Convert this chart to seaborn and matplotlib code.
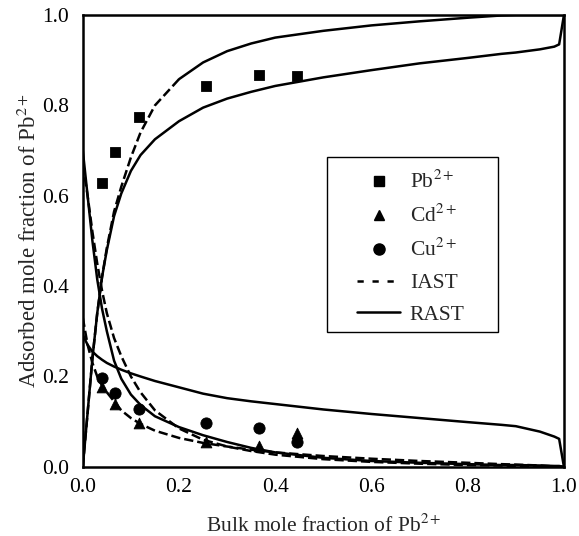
import numpy as np
import pandas as pd
import matplotlib
matplotlib.use("Agg")
import matplotlib.pyplot as plt
from matplotlib.lines import Line2D
from matplotlib.patches import Rectangle
import seaborn as sns

# measured data (bulk vs adsorbed mole fraction)
x_exp = [0.039, 0.066, 0.116, 0.256, 0.366, 0.446]
pb_exp = [0.628, 0.697, 0.774, 0.843, 0.867, 0.865]
cd_exp = [0.177, 0.139, 0.097, 0.055, 0.046, 0.075]
cu_exp = [0.197, 0.164, 0.128, 0.097, 0.086, 0.056]

# model curves
x_model = [0, 0.01, 0.02, 0.03, 0.04, 0.05, 0.065, 0.08, 0.1, 0.12, 0.15, 0.2,
           0.25, 0.3, 0.35, 0.4, 0.5, 0.6, 0.7, 0.8, 0.87, 0.9, 0.95, 0.98, 0.99, 1.0]
rast_pb = [0, 0.12, 0.24, 0.34, 0.42, 0.48, 0.555, 0.605, 0.655, 0.69, 0.725, 0.765,
           0.795, 0.815, 0.83, 0.843, 0.862, 0.878, 0.893, 0.905, 0.914, 0.917, 0.924, 0.93, 0.935, 1.0]
rast_a = [0.292, 0.27, 0.255, 0.245, 0.237, 0.23, 0.222, 0.215, 0.207, 0.2, 0.19, 0.176,
          0.162, 0.152, 0.145, 0.139, 0.127, 0.117, 0.108, 0.099, 0.093, 0.09, 0.078, 0.067, 0.062, 0.0]
rast_b = [0.70, 0.60, 0.50, 0.415, 0.35, 0.30, 0.235, 0.195, 0.16, 0.137, 0.112, 0.088,
          0.07, 0.055, 0.042, 0.032, 0.02, 0.013, 0.009, 0.006, 0.004, 0.004, 0.003, 0.002, 0.002, 0.0]
iast_pb = [0, 0.12, 0.24, 0.34, 0.42, 0.485, 0.565, 0.62, 0.685, 0.74, 0.80, 0.858,
           0.895, 0.92, 0.937, 0.95, 0.965, 0.977, 0.986, 0.994, 0.999, 1.0, 1.0, 1.0, 1.0, 1.0]
iast_a = [0.33, 0.27, 0.23, 0.20, 0.18, 0.165, 0.145, 0.125, 0.108, 0.095, 0.08, 0.064,
          0.053, 0.045, 0.038, 0.032, 0.024, 0.018, 0.013, 0.009, 0.006, 0.005, 0.003, 0.001, 0.0, 0.0]
iast_b = [0.67, 0.60, 0.52, 0.45, 0.39, 0.34, 0.285, 0.245, 0.20, 0.165, 0.125, 0.085,
          0.06, 0.045, 0.035, 0.027, 0.017, 0.011, 0.007, 0.004, 0.003, 0.002, 0.001, 0.0, 0.0, 0.0]

sns.set_style("white")
plt.rcParams["font.family"] = ["Liberation Serif", "DejaVu Serif"]
plt.rcParams["mathtext.fontset"] = "stix"

fig = plt.figure(figsize=(5.79, 5.36), dpi=100)
ax = fig.add_axes([0.143, 0.129, 0.831, 0.843])

curves = pd.DataFrame({"x": x_model, "rast_pb": rast_pb, "rast_a": rast_a, "rast_b": rast_b,
                       "iast_pb": iast_pb, "iast_a": iast_a, "iast_b": iast_b})
lw = 1.8
dash = (3, 2)
for col in ["rast_pb", "rast_a", "rast_b"]:
    sns.lineplot(data=curves, x="x", y=col, ax=ax, color="black", lw=lw, sort=False)
for col in ["iast_a", "iast_b"]:
    sns.lineplot(data=curves, x="x", y=col, ax=ax, color="black", lw=lw, sort=False,
                 dashes=dash, linestyle="--")
# IAST Pb curve prints as dashed on the steep part and solid further on
low = curves[curves["x"] <= 0.2]
high = curves[curves["x"] >= 0.2]
sns.lineplot(data=low, x="x", y="iast_pb", ax=ax, color="black", lw=lw, sort=False,
             dashes=dash, linestyle="--")
sns.lineplot(data=high, x="x", y="iast_pb", ax=ax, color="black", lw=lw, sort=False)

sns.scatterplot(x=x_exp, y=pb_exp, ax=ax, marker="s", s=55, color="black", edgecolor="black", zorder=5)
sns.scatterplot(x=x_exp, y=cd_exp, ax=ax, marker="^", s=60, color="black", edgecolor="black", zorder=5)
sns.scatterplot(x=x_exp, y=cu_exp, ax=ax, marker="o", s=65, color="black", edgecolor="black", zorder=5)

ticks = np.arange(0, 1.01, 0.2)
ax.set_xlim(0, 1)
ax.set_ylim(0, 1)
ax.set_xticks(ticks)
ax.set_yticks(ticks)
ax.set_xticklabels([f"{v:.1f}" for v in ticks])
ax.set_yticklabels([f"{v:.1f}" for v in ticks])
ax.tick_params(length=0, labelsize=15.5, colors="black")
ax.tick_params(axis="x", pad=8)
ax.tick_params(axis="y", pad=10)
for s in ax.spines.values():
    s.set_color("black")
    s.set_linewidth(1.8)

ax.set_xlabel(r"Bulk mole fraction of Pb$^{2+}$", fontsize=15.5, labelpad=13)
ax.set_ylabel(r"Adsorbed mole fraction of Pb$^{2+}$", fontsize=16.5, labelpad=1)

# legend frame drawn separately so the entries can sit inset like the original
ax.add_patch(Rectangle((0.507, 0.299), 0.356, 0.387, transform=ax.transAxes,
                       facecolor="white", edgecolor="black", lw=1.0, zorder=6))
handles = [
    Line2D([], [], marker="s", color="black", ls="none", markersize=7),
    Line2D([], [], marker="^", color="black", ls="none", markersize=7.5),
    Line2D([], [], marker="o", color="black", ls="none", markersize=8),
    Line2D([], [], color="black", lw=lw, ls=(0, (2.5, 3.5))),
    Line2D([], [], color="black", lw=lw),
]
labels = [r"Pb$^{2+}$", r"Cd$^{2+}$", r"Cu$^{2+}$", "IAST", "RAST"]
leg = ax.legend(handles, labels, loc="upper left", bbox_to_anchor=(0.570, 0.655),
                fontsize=15.5, frameon=False, handlelength=2.0, labelspacing=0.55,
                borderpad=0, handletextpad=0.45, borderaxespad=0)
leg.set_zorder(7)

fig.savefig("out.png", dpi=100)
